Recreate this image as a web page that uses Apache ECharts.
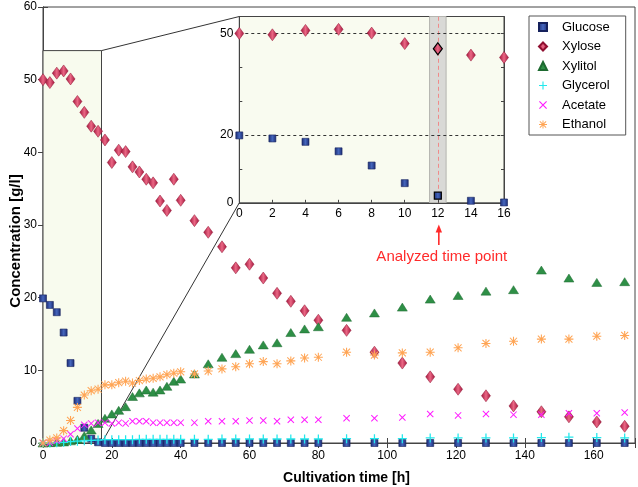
<!DOCTYPE html>
<html><head><meta charset="utf-8">
<script src="https://cdn.jsdelivr.net/npm/echarts@6/dist/echarts.min.js"></script>
<style>html,body{margin:0;padding:0;background:#fff}#c{width:638px;height:487px}</style>
</head><body><div id="c"></div>
<script>
// ---- data ----
const times = [0,2,4,6,8,10,12,14,16,18,20,22,24,26,28,30,32,34,36,38,40,
  44,48,52,56,60,64,68,72,76,80,
  88.2,96.3,104.4,112.5,120.6,128.7,136.7,144.8,152.8,160.9,169];
const glucose = [19.9,19.0,18.0,15.2,11.0,5.8,2.1,0.6,0.1,0,0,0,0,0,0,0,0,0,0,0,0,
  0,0,0,0,0,0,0,0,0,0, 0,0,0,0,0,0,0,0,0,0,0];
const xylose = [50.0,49.6,50.9,51.2,50.1,47.0,45.5,43.6,42.9,41.7,38.6,40.3,40.1,38.0,37.3,36.3,35.8,33.3,32.0,36.3,33.4,
  30.6,29.0,27.0,24.1,24.6,22.7,20.6,19.5,18.2,16.9,
  15.5,12.5,11.0,9.1,7.4,6.5,5.1,4.3,3.6,2.9,2.3];
const xylitol = [0,0.05,0.1,0.15,0.3,0.5,1.0,1.8,2.7,3.4,4.0,4.5,5.0,6.4,6.9,7.3,7.0,7.3,7.8,8.5,8.8,
  9.5,10.9,11.8,12.3,12.9,13.5,13.8,15.2,15.7,16.0,
  17.3,17.9,18.7,19.8,20.3,20.9,21.1,23.8,22.7,22.1,22.2];
const glycerol = [0,0,0.05,0.1,0.2,0.25,0.3,0.35,0.4,0.45,0.45,0.45,0.45,0.45,0.5,0.5,0.5,0.5,0.5,0.5,0.5,
  0.5,0.5,0.55,0.55,0.55,0.55,0.55,0.55,0.55,0.55,
  0.6,0.6,0.6,0.7,0.7,0.7,0.7,0.75,0.8,0.75,0.7];
const acetate = [0,0.05,0.3,0.6,1.2,2.0,2.5,2.7,2.8,2.8,2.7,2.8,2.7,3.0,3.0,3.0,2.8,2.8,2.8,2.8,2.8,
  2.8,3.0,3.0,3.0,3.1,3.1,3.0,3.2,3.2,3.2,
  3.4,3.4,3.5,4.0,3.8,4.0,3.9,3.9,4.1,4.1,4.2];
const ethanol = [0,0.4,0.7,1.7,3.1,4.9,6.6,7.2,7.4,8.0,8.0,8.3,8.5,8.25,8.6,8.8,8.9,9.1,9.4,9.6,9.8,
  9.5,9.9,10.2,10.5,10.9,11.2,10.9,11.3,11.7,11.8,
  12.5,12.1,12.4,12.5,13.1,13.7,14.0,14.3,14.3,14.7,14.8];
const insetCount = 9;          // time points 0..16 h shown in the zoom
const analyzedTime = 12;
const zoomRegion = {x0: 0, x1: 17, y0: 0, y1: 54};
const insetYMax = 55;
const insetYLabels = [0, 20, 50];
const insetGuides = [20, 50];
const seriesNames = ['Glucose','Xylose','Xylitol','Glycerol','Acetate','Ethanol'];

// ---- styles ----
const FONT = 'Liberation Sans, Arial, sans-serif';
const SYM_PLUS = 'path://M4.3,0h1.4v4.3h4.3v1.4h-4.3v4.3h-1.4v-4.3h-4.3v-1.4h4.3z';
const SYM_X = 'path://M1,0L10,9L9,10L0,1Z M9,0L10,1L1,10L0,9Z';
const SYM_AST = 'path://M4.4,0h1.2v10h-1.2z M0,4.4h10v1.2h-10z M1.5,0.7L9.3,8.5L8.5,9.3L0.7,1.5Z M8.5,0.7L9.3,1.5L1.5,9.3L0.7,8.5Z';
const diamondFill = {type:'linear',x:0,y:0,x2:1,y2:0,colorStops:[
  {offset:0,color:'#a0123a'},{offset:0.5,color:'#ea6784'},{offset:1,color:'#a0123a'}]};
const squareFill = {type:'linear',x:0,y:0,x2:1,y2:0,colorStops:[
  {offset:0,color:'#1a2a72'},{offset:0.5,color:'#4566bd'},{offset:1,color:'#1a2a72'}]};
const styles = {
  Glucose: {symbol:'rect', symbolSize:7, itemStyle:{opacity:1, color:squareFill, borderColor:'#15215c', borderWidth:0.6}},
  Xylose: {symbol:'diamond', symbolSize:[9,12], itemStyle:{opacity:1, color:diamondFill, borderColor:'#8f0f30', borderWidth:0.5}},
  Xylitol: {symbol:'triangle', symbolSize:[10,8], itemStyle:{opacity:1, color:'#2e8f46', borderColor:'#1d6a30', borderWidth:0.5}},
  Glycerol: {symbol:SYM_PLUS, symbolSize:9, itemStyle:{opacity:1, color:'#22e8ec'}},
  Acetate: {symbol:SYM_X, symbolSize:7, itemStyle:{opacity:1, color:'#ff1aff'}},
  Ethanol: {symbol:SYM_AST, symbolSize:9, itemStyle:{opacity:1, color:'#ffa555'}}
};
const values = {Glucose:glucose, Xylose:xylose, Xylitol:xylitol, Glycerol:glycerol, Acetate:acetate, Ethanol:ethanol};

const axisLine = {show:true, lineStyle:{color:'#444', width:1}};
const tickIn = {show:true, inside:true, length:5, lineStyle:{color:'#444'}};
const tickInS = {show:true, inside:true, length:3, lineStyle:{color:'#444'}};
const lbl = {color:'#000', fontSize:12, fontFamily:FONT};

const chart = echarts.init(document.getElementById('c'), null, {renderer:'canvas'});

const mainSeries = seriesNames.map(n => Object.assign({
  name:n, type:'scatter', xAxisIndex:0, yAxisIndex:0, z:3, clip:false,
  data: times.map((t,i)=>[t, values[n][i]])
}, styles[n]));

function insetData(n){
  return times.slice(0,insetCount).map((t,i)=>{
    const d = {value:[t, values[n][i]]};
    if (t === analyzedTime) d.itemStyle = {borderColor:'#000', borderWidth:1.2};
    return d;
  });
}

const option = {
  animation:false,
  textStyle:{fontFamily:FONT},
  grid:[
    {left:43, right:2, top:7, bottom:44, show:true, borderColor:'#444', borderWidth:1},
    {left:239.3, right:134, top:16.5, bottom:284.2, show:true, backgroundColor:'#f9fbf0', borderColor:'#444', borderWidth:1, z:4}
  ],
  legend:{
    data:seriesNames, orient:'vertical', left:529, top:16,
    padding:[4.5,16,4,9], itemWidth:8, itemHeight:8, itemGap:6.5,
    backgroundColor:'#fff', borderColor:'#555', borderWidth:1,
    textStyle:{fontSize:13, color:'#000', fontFamily:FONT, padding:[0,0,0,10]},
    z:10
  },
  xAxis:[
    {gridIndex:0, type:'value', min:0, max:172, interval:20, position:'bottom',
     axisLine, axisTick:tickIn, splitLine:{show:false},
     axisLabel:Object.assign({margin:7, formatter:v=> (v%20===0? v : '')}, lbl)},
    {gridIndex:0, type:'value', min:0, max:172, interval:20, position:'top',
     axisLine, axisTick:tickIn, splitLine:{show:false}, axisLabel:{show:false}},
    {gridIndex:1, type:'value', min:0, max:16, interval:2, position:'bottom',
     axisLine, axisTick:tickInS, splitLine:{show:false},
     axisLabel:Object.assign({margin:5}, lbl), z:5}
  ],
  yAxis:[
    {gridIndex:0, type:'value', min:0, max:60, interval:10, position:'left',
     axisLine, axisTick:tickIn, splitLine:{show:false},
     axisLabel:Object.assign({margin:6}, lbl)},
    {gridIndex:0, type:'value', min:0, max:60, interval:10, position:'right',
     axisLine, axisTick:tickIn, splitLine:{show:false}, axisLabel:{show:false}},
    {gridIndex:1, type:'value', min:0, max:insetYMax, interval:10, position:'left',
     axisLine, axisTick:tickInS, splitLine:{show:false},
     axisLabel:Object.assign({margin:6, formatter:v=> (insetYLabels.includes(v)? v : '')}, lbl), z:5},
    {gridIndex:1, type:'value', min:0, max:insetYMax, interval:10, position:'right',
     axisLine, axisTick:tickInS, splitLine:{show:false}, axisLabel:{show:false}, z:5}
  ],
  series:[
    {type:'scatter', xAxisIndex:0, yAxisIndex:0, data:[], z:1, silent:true,
     markArea:{silent:true, z:1, itemStyle:{color:'#f8fbee', borderColor:'#444', borderWidth:1},
       data:[[{xAxis:zoomRegion.x0, yAxis:zoomRegion.y0},{xAxis:zoomRegion.x1, yAxis:zoomRegion.y1}]]}},
    ...mainSeries,
    {type:'scatter', xAxisIndex:2, yAxisIndex:2, data:[], z:5, silent:true,
     markArea:{silent:true, z:5, itemStyle:{color:'#d9d9d6', borderColor:'#b5b5b0', borderWidth:1},
       data:[[{xAxis:analyzedTime-0.5, yAxis:0},{xAxis:analyzedTime+0.5, yAxis:insetYMax}]]},
     markLine:{silent:true, z:5, symbol:'none', label:{show:false},
       data:[
         {xAxis:analyzedTime, lineStyle:{color:'#f08a8a', type:[4,3], width:1}},
         ...insetGuides.map(g=>({yAxis:g, lineStyle:{color:'#333', type:[3,3], width:1}}))
       ]}},
    Object.assign({name:'Glucose', type:'scatter', xAxisIndex:2, yAxisIndex:2, z:6, clip:false, data:insetData('Glucose')}, styles.Glucose),
    Object.assign({name:'Xylose', type:'scatter', xAxisIndex:2, yAxisIndex:2, z:6, clip:false, data:insetData('Xylose')}, styles.Xylose)
  ]
};
chart.setOption(option);

// connector lines, arrow and texts placed via the chart's own scales
const pTop = chart.convertToPixel({gridIndex:0}, [zoomRegion.x1, zoomRegion.y1]);
const pBot = chart.convertToPixel({gridIndex:0}, [zoomRegion.x1, zoomRegion.y0]);
const iTop = chart.convertToPixel({gridIndex:1}, [0, insetYMax]);
const iBot = chart.convertToPixel({gridIndex:1}, [0, 0]);
const aX = chart.convertToPixel({gridIndex:1}, [analyzedTime, 0])[0] + 1;
chart.setOption({graphic:[
  {type:'line', shape:{x1:pTop[0],y1:pTop[1],x2:iTop[0],y2:iTop[1]}, style:{stroke:'#333',lineWidth:1}, z:3},
  {type:'line', shape:{x1:pBot[0],y1:pBot[1],x2:iBot[0],y2:iBot[1]}, style:{stroke:'#333',lineWidth:1}, z:3},
  {type:'line', shape:{x1:aX,y1:245,x2:aX,y2:231}, style:{stroke:'#ff2a2a',lineWidth:1.6}, z:8},
  {type:'polygon', shape:{points:[[aX,224.5],[aX-3.2,232.5],[aX+3.2,232.5]]}, style:{fill:'#ff2a2a'}, z:8},
  {type:'text', x:aX+3, y:256.7, style:{text:'Analyzed time point', fill:'#ff2a2a', font:'15px '+FONT, align:'center', verticalAlign:'middle'}, z:8},
  {type:'text', x:346.5, y:478, style:{text:'Cultivation time [h]', fill:'#000', font:'bold 14px '+FONT, align:'center', verticalAlign:'middle'}},
  {type:'text', x:16, y:241, rotation:Math.PI/2, style:{text:'Concentration [g/l]', fill:'#000', font:'bold 15px '+FONT, align:'center', verticalAlign:'middle'}}
]});
</script>
</body></html>
